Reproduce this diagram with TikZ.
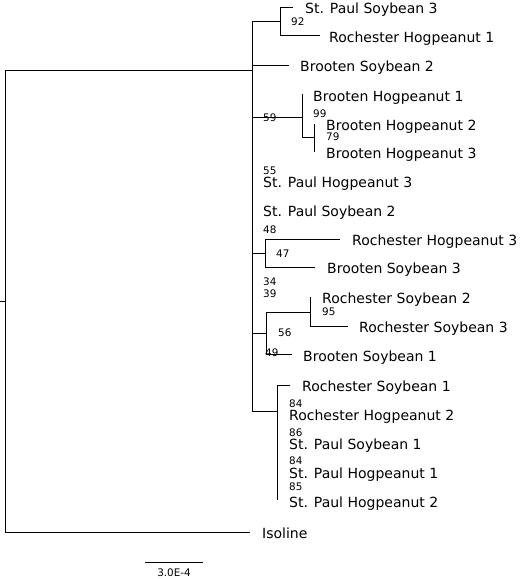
\documentclass[tikz,border=0pt]{standalone}
\usepackage{fontspec}
\setmainfont{DejaVu Sans}
\begin{document}
\begin{tikzpicture}[x=1pt,y=-1pt,
  br/.style={line width=1pt,black},
  lab/.style={anchor=west,inner xsep=0pt,inner ysep=0pt,text height=10.2pt,text depth=0pt,font=\fontsize{14}{16}\selectfont},
  bs/.style={anchor=west,inner xsep=0pt,inner ysep=0pt,text height=7.6pt,text depth=0pt,font=\fontsize{10.4}{12}\selectfont}]
\useasboundingbox (0,0) rectangle (520,579);
% internal nodes
\coordinate (r) at (5,301);
\coordinate (rt) at (0,301);
\coordinate (n1) at (252,70);
\coordinate (c1) at (280,21);
\coordinate (c2) at (302,117);
\coordinate (c3) at (314,137);
\coordinate (c4) at (265,253);
\coordinate (c5) at (266,333);
\coordinate (c6) at (310,312);
\coordinate (c7) at (277,411);
% tip ends
\coordinate (e1) at (293,7);
\coordinate (e2) at (320,35);
\coordinate (e3) at (289,65);
\coordinate (e4) at (302,94);
\coordinate (e5) at (314,124);
\coordinate (e6) at (314,152);
\coordinate (e7) at (252,21);
\coordinate (e8) at (252,411);
\coordinate (e9) at (340,239);
\coordinate (e10) at (315,267);
\coordinate (e11) at (310,297);
\coordinate (e12) at (348,326);
\coordinate (e13) at (292,354);
\coordinate (e14) at (290,385);
\coordinate (e15) at (277,500);
\coordinate (iso) at (250,532);
\coordinate (sb1) at (145,562);
\coordinate (sb2) at (203,562);
% branches
\draw[br] (rt) -- (r);
\draw[br] (r) |- (n1);
\draw[br] (r) |- (iso);
\draw[br] (n1) -- (e7);
\draw[br] (n1) -- (e8);
\draw[br] (n1) |- (c1);
\draw[br] (c1) |- (e1);
\draw[br] (c1) |- (e2);
\draw[br] (n1) |- (e3);
\draw[br] (n1) |- (c2);
\draw[br] (c2) |- (e4);
\draw[br] (c2) |- (c3);
\draw[br] (c3) |- (e5);
\draw[br] (c3) |- (e6);
\draw[br] (n1) |- (c4);
\draw[br] (c4) |- (e9);
\draw[br] (c4) |- (e10);
\draw[br] (n1) |- (c5);
\draw[br] (c5) |- (c6);
\draw[br] (c6) |- (e11);
\draw[br] (c6) |- (e12);
\draw[br] (c5) |- (e13);
\draw[br] (n1) |- (c7);
\draw[br] (c7) |- (e14);
\draw[br] (c7) |- (e15);
\draw[br] (sb1) -- (sb2);
% tip labels
\node[lab] (l1) at (305,8) {St. Paul Soybean 3};
\node[lab] (l2) at (329,37) {Rochester Hogpeanut 1};
\node[lab] (l3) at (300,66) {Brooten Soybean 2};
\node[lab] (l4) at (313,96) {Brooten Hogpeanut 1};
\node[lab] (l5) at (326,125) {Brooten Hogpeanut 2};
\node[lab] (l6) at (326,153) {Brooten Hogpeanut 3};
\node[lab] (l7) at (263,182) {St. Paul Hogpeanut 3};
\node[lab] (l8) at (263,211) {St. Paul Soybean 2};
\node[lab] (l9) at (352,240) {Rochester Hogpeanut 3};
\node[lab] (l10) at (327,268) {Brooten Soybean 3};
\node[lab] (l11) at (322,298) {Rochester Soybean 2};
\node[lab] (l12) at (359,327) {Rochester Soybean 3};
\node[lab] (l13) at (303,356) {Brooten Soybean 1};
\node[lab] (l14) at (302,386) {Rochester Soybean 1};
\node[lab] (l15) at (289,415) {Rochester Hogpeanut 2};
\node[lab] (l16) at (289,444) {St. Paul Soybean 1};
\node[lab] (l17) at (289,473) {St. Paul Hogpeanut 1};
\node[lab] (l18) at (289,502) {St. Paul Hogpeanut 2};
\node[lab] (l19) at (262,533) {Isoline};
% bootstrap values
\node[bs] (b1) at (291,22) {92};
\node[bs] (b2) at (263,118) {59};
\node[bs] (b3) at (313,114) {99};
\node[bs] (b4) at (326,137) {79};
\node[bs] (b5) at (263,171) {55};
\node[bs] (b6) at (263,230) {48};
\node[bs] (b7) at (276,254) {47};
\node[bs] (b8) at (263,282) {34};
\node[bs] (b9) at (263,294) {39};
\node[bs] (b10) at (322,312) {95};
\node[bs] (b11) at (278,333) {56};
\node[bs] (b12) at (265,353) {49};
\node[bs] (b13) at (289,404) {84};
\node[bs] (b14) at (289,433) {86};
\node[bs] (b15) at (289,461) {84};
\node[bs] (b16) at (289,487) {85};
\node[bs,anchor=center] (sc) at (174,573) {3.0E-4};
\end{tikzpicture}
\end{document}
